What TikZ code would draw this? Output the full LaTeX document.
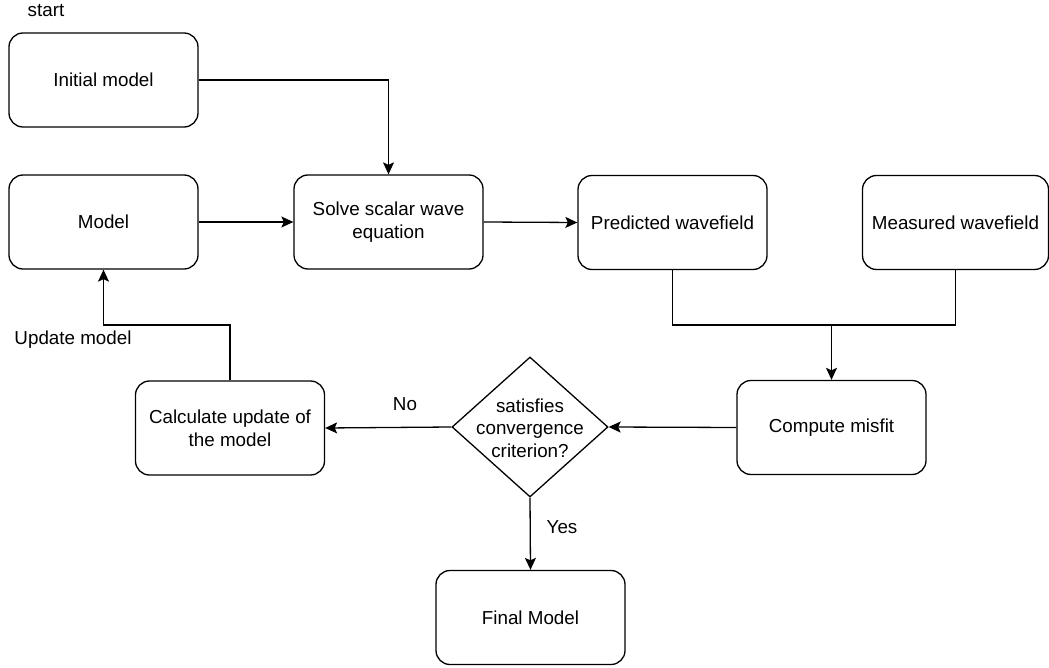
\documentclass[tikz,border=0pt]{standalone}
\usepackage{fontspec}
\setmainfont{Liberation Sans}
\usetikzlibrary{shapes.geometric,arrows.meta}
\begin{document}
\begin{tikzpicture}[x=1pt,y=-1pt,
  box/.style={draw, rounded corners=14pt, line width=1.3pt, minimum width=189pt, minimum height=94pt, align=center, inner sep=0pt},
  lbl/.style={inner sep=0pt, align=center},
  conn/.style={line width=1.3pt},
  arr/.style={conn, -{Stealth[length=12pt,width=11pt,inset=2.5pt]}},
  every node/.style={font=\fontsize{18.8}{23}\selectfont}
]
\useasboundingbox (0,0) rectangle (1049,668);
\node[box] (init) at (103.5,80) {Initial model};
\node[box] (model) at (103.5,222) {Model};
\node[box] (solve) at (388.5,222) {Solve scalar wave\\equation};
\node[box] (pred) at (672.5,222.5) {Predicted wavefield};
\node[box, minimum width=186pt] (meas) at (955.5,222.5) {Measured wavefield};
\node[box] (misfit) at (831.5,427.5) {Compute misfit};
\node[box] (calc) at (230,428) {Calculate update of\\the model};
\node[draw, diamond, line width=1.3pt, minimum width=156pt, minimum height=140pt, inner sep=0pt] (dec) at (530,427) {};
\node[lbl, font=\fontsize{18.8}{22.5}\selectfont] (dectext) at (530,428) {satisfies\\convergence\\criterion?};
\node[box] (final) at (530.5,617.5) {Final Model};
\node[lbl] (start) at (46,11) {start};
\node[lbl] (upd) at (73,340) {Update model};
\node[lbl] (no) at (405,404) {No};
\node[lbl] (yes) at (562,527) {Yes};
\coordinate (j) at (831.5,325);
\coordinate (u) at (230,325);
\draw[arr] (init.east) -| (solve.north);
\draw[arr] (model.east) -- (solve.west);
\draw[arr] (solve.east) -- (pred.west);
\draw[conn] (pred.south) |- (j) -| (meas.south);
\draw[arr] (j) -- (misfit.north);
\draw[arr] (misfit.west) -- (dec.east);
\draw[arr] (dec.west) -- (calc.east);
\draw[arr] (calc.north) -- (u) -| (model.south);
\draw[arr] (dec.south) -- (final.north);
\end{tikzpicture}
\end{document}
